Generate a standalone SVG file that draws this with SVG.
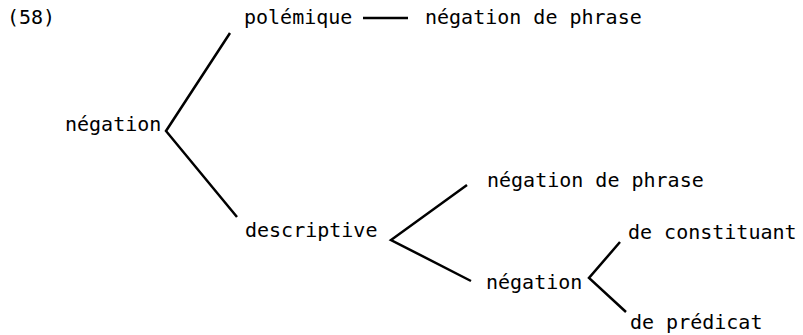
<svg xmlns="http://www.w3.org/2000/svg" width="803" height="335" viewBox="0 0 803 335">
<style>
text{font-family:"DejaVu Sans Mono","Liberation Mono",monospace;font-size:20px;fill:#000}
.c line,.c polyline{stroke:#000;stroke-width:2.5;fill:none;stroke-linejoin:miter}
</style>
<rect width="803" height="335" fill="#fff"/>
<text x="7" y="24">(58)</text>
<g id="n-negation"><text x="65" y="131">négation</text></g>
<g id="n-polemique"><text x="244" y="24">polémique</text></g>
<g id="n-phrase1"><text x="425" y="24">négation de phrase</text></g>
<g id="n-descriptive"><text x="245" y="237">descriptive</text></g>
<g id="n-phrase2"><text x="487" y="187">négation de phrase</text></g>
<g id="n-negation2"><text x="486" y="289">négation</text></g>
<g id="n-constituant"><text x="628" y="239">de constituant</text></g>
<g id="n-predicat"><text x="630" y="329">de prédicat</text></g>
<g class="c" id="connectors">
<line x1="363" y1="18" x2="408" y2="18"/>
<polyline points="230,33 166,131 237,217"/>
<polyline points="467,185 391,240 471,281"/>
<polyline points="620,242 589,278 626,312"/>
</g>
</svg>
